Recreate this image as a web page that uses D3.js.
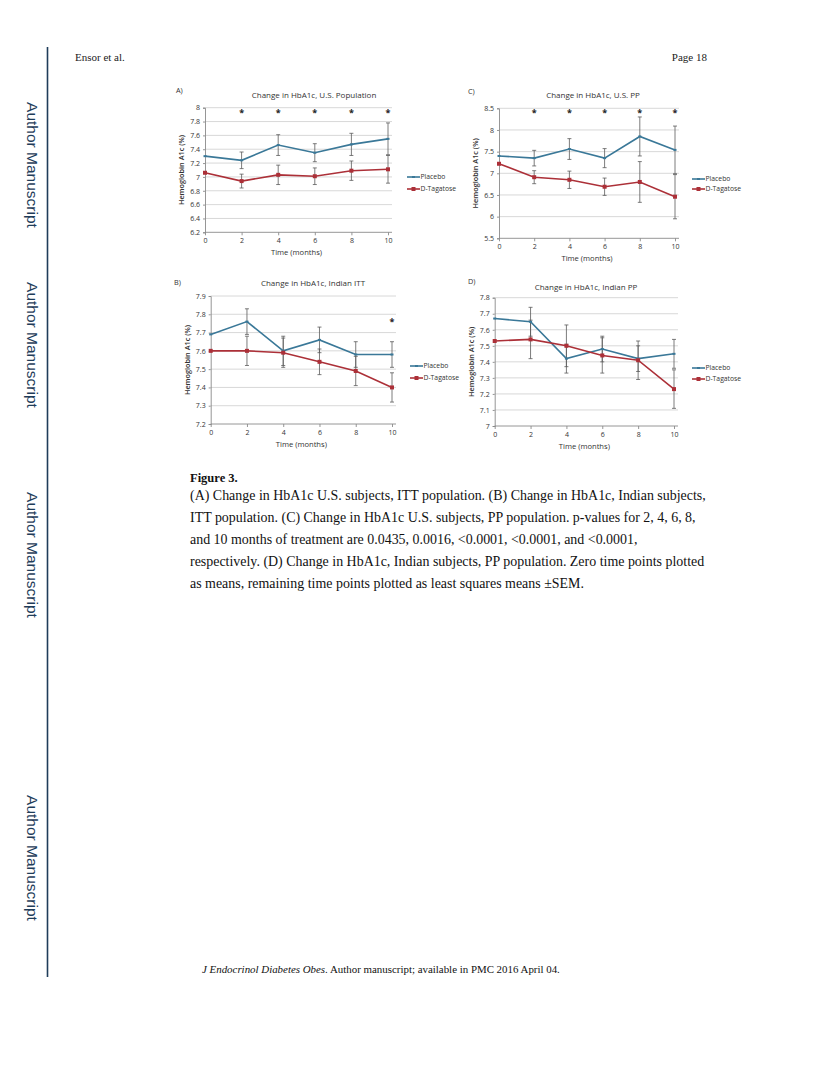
<!DOCTYPE html>
<html><head><meta charset="utf-8">
<script src="https://cdn.jsdelivr.net/npm/d3@7/dist/d3.min.js"></script>
<style>
body{margin:0;background:#fff;}
svg{display:block;}
</style></head>
<body>
<svg id="page" width="830" height="1074"></svg>
<script>
// ---------- data ----------
const months = [0, 2, 4, 6, 8, 10];
const seriesNames = ["Placebo", "D-Tagatose"];

// Panel A: Change in HbA1c, U.S. Population
const aPlacebo = [7.30, 7.24, 7.46, 7.35, 7.47, 7.55];
const aPlaceboSem = [null, 0.12, 0.15, 0.13, 0.16, 0.23];
const aTagatose = [7.06, 6.94, 7.03, 7.01, 7.09, 7.11];
const aTagatoseSem = [null, 0.10, 0.14, 0.12, 0.14, 0.20];
const aTicks = [6.2, 6.4, 6.6, 6.8, 7, 7.2, 7.4, 7.6, 7.8, 8];
const aStars = [2, 4, 6, 8, 10];

// Panel B: Change in HbA1c, Indian ITT
const bPlacebo = [7.69, 7.76, 7.60, 7.66, 7.58, 7.58];
const bPlaceboSem = [null, 0.07, 0.08, 0.07, 0.07, 0.07];
const bTagatose = [7.60, 7.60, 7.59, 7.54, 7.49, 7.40];
const bTagatoseSem = [null, 0.08, 0.08, 0.07, 0.08, 0.08];
const bTicks = [7.2, 7.3, 7.4, 7.5, 7.6, 7.7, 7.8, 7.9];
const bStars = [10];

// Panel C: Change in HbA1c, U.S. PP
const cPlacebo = [7.40, 7.35, 7.56, 7.35, 7.85, 7.54];
const cPlaceboSem = [null, 0.18, 0.24, 0.22, 0.45, 0.55];
const cTagatose = [7.22, 6.91, 6.85, 6.69, 6.80, 6.46];
const cTagatoseSem = [null, 0.15, 0.20, 0.20, 0.47, 0.51];
const cTicks = [5.5, 6, 6.5, 7, 7.5, 8, 8.5];
const cStars = [2, 4, 6, 8, 10];

// Panel D: Change in HbA1c, Indian PP
const dPlacebo = [7.67, 7.65, 7.42, 7.48, 7.42, 7.45];
const dPlaceboSem = [null, 0.09, 0.09, 0.08, 0.08, 0.09];
const dTagatose = [7.53, 7.54, 7.50, 7.44, 7.41, 7.23];
const dTagatoseSem = [null, 0.12, 0.13, 0.11, 0.12, 0.12];
const dTicks = [7, 7.1, 7.2, 7.3, 7.4, 7.5, 7.6, 7.7, 7.8];
const dStars = [];

const captionLines = [
  "(A) Change in HbA1c U.S. subjects, ITT population. (B) Change in HbA1c, Indian subjects,",
  "ITT population. (C) Change in HbA1c U.S. subjects, PP population. p-values for 2, 4, 6, 8,",
  "and 10 months of treatment are 0.0435, 0.0016, <0.0001, <0.0001, and <0.0001,",
  "respectively. (D) Change in HbA1c, Indian subjects, PP population. Zero time points plotted",
  "as means, remaining time points plotted as least squares means ±SEM."
];

// ---------- drawing ----------
const svg = d3.select("#page");
const BLUE = "#3a7898", RED = "#ac3038";
const chartFont = "'Open Sans','Liberation Sans',Arial,sans-serif";
const serif = "'Liberation Serif','Times New Roman',serif";

// sidebar
svg.append("line").attr("x1", 47.5).attr("x2", 47.5).attr("y1", 47).attr("y2", 977)
  .attr("stroke", "#1f3d5a").attr("stroke-width", 1.6);
[165, 345, 555, 858].forEach(cy => {
  svg.append("text").attr("transform", `translate(27,${cy}) rotate(90)`)
    .attr("text-anchor", "middle").attr("font-family", "'Liberation Sans',Arial,sans-serif")
    .attr("font-size", 15.5).attr("fill", "#1f3d5a").text("Author Manuscript");
});
// header
svg.append("text").attr("x", 75).attr("y", 61).attr("font-family", serif).attr("font-size", 11)
  .attr("fill", "#222").text("Ensor et al.");
svg.append("text").attr("x", 707).attr("y", 61).attr("text-anchor", "end").attr("font-family", serif)
  .attr("font-size", 11).attr("fill", "#222").text("Page 18");

function panel(cfg) {
  const g = svg.append("g");
  const x = d3.scaleLinear().domain([0, 10]).range([cfg.x0, cfg.x1]);
  const y = d3.scaleLinear().domain([cfg.ticks[0], cfg.ticks[cfg.ticks.length - 1]]).range([cfg.yb, cfg.yt]);
  // gridlines
  g.selectAll(".grid").data(cfg.ticks.slice(1)).join("line")
    .attr("x1", cfg.x0).attr("x2", cfg.x1 + 4)
    .attr("y1", d => y(d)).attr("y2", d => y(d))
    .attr("stroke", "#d4d4d4").attr("stroke-width", 0.9);
  // y axis
  const ya = d3.axisLeft(y).tickValues(cfg.ticks).tickSize(2).tickFormat(d => String(+d.toFixed(2)));
  const yg = g.append("g").attr("transform", `translate(${cfg.x0},0)`).call(ya);
  // x axis
  const xa = d3.axisBottom(x).tickValues(months).tickSize(3).tickFormat(d3.format("d"));
  const xg = g.append("g").attr("transform", `translate(0,${cfg.yb})`).call(xa);
  xg.select(".domain").attr("d", `M${cfg.x0},0H${cfg.x1 + 4}`);
  [yg, xg].forEach(a => {
    a.selectAll(".domain, .tick line").attr("stroke", "#8a8a8a").attr("stroke-width", 0.9);
    a.selectAll("text").attr("font-family", chartFont).attr("font-size", 7).attr("fill", "#333");
  });
  yg.selectAll("text").attr("x", -5);
  xg.selectAll("text").attr("y", 6);
  // titles
  g.append("text").attr("x", cfg.tx).attr("y", cfg.ty).attr("text-anchor", "middle")
    .attr("font-family", chartFont).attr("font-size", 8).attr("fill", "#333").text(cfg.title);
  g.append("text").attr("x", cfg.lx).attr("y", cfg.ly).attr("font-family", chartFont)
    .attr("font-size", 7.3).attr("fill", "#333").text(cfg.letter);
  g.append("text").attr("x", (cfg.x0 + cfg.x1) / 2).attr("y", cfg.yb + 23).attr("text-anchor", "middle")
    .attr("font-family", chartFont).attr("font-size", 7.6).attr("fill", "#333").text("Time (months)");
  g.append("text").attr("transform", `translate(${cfg.x0 - 21},${(cfg.yt + cfg.yb) / 2}) rotate(-90)`)
    .attr("text-anchor", "middle").attr("font-family", chartFont).attr("font-size", 7.3)
    .attr("font-weight", 600).attr("fill", "#333").text("Hemoglobin A1c (%)");
  // error bars
  const series = [
    {name: seriesNames[0], vals: cfg.p, sem: cfg.ps, color: BLUE, sq: false},
    {name: seriesNames[1], vals: cfg.t, sem: cfg.ts, color: RED, sq: true}
  ];
  series.forEach(s => {
    months.forEach((m, i) => {
      if (s.sem[i] == null) return;
      const lo = y(s.vals[i] - s.sem[i]), hi = y(s.vals[i] + s.sem[i]), xx = x(m);
      g.append("path").attr("d", `M${xx},${lo}V${hi}M${xx - 2},${lo}H${xx + 2}M${xx - 2},${hi}H${xx + 2}`)
        .attr("stroke", "#5a5a5a").attr("stroke-width", 0.8).attr("fill", "none");
    });
  });
  const line = d3.line().x((d, i) => x(months[i])).y(d => y(d));
  series.forEach(s => {
    g.append("path").attr("d", line(s.vals)).attr("fill", "none").attr("stroke", s.color).attr("stroke-width", 1.6);
    g.selectAll(null).data(s.vals).join("rect")
      .attr("x", (d, i) => x(months[i]) - (s.sq ? 2 : 1.5)).attr("y", d => y(d) - (s.sq ? 2 : 1))
      .attr("width", s.sq ? 4 : 3).attr("height", s.sq ? 4 : 2).attr("fill", s.color);
  });
  // stars
  g.selectAll(".star").data(cfg.stars).join("text")
    .attr("x", d => x(d)).attr("y", cfg.starY + 4).attr("text-anchor", "middle")
    .attr("font-family", chartFont).attr("font-size", 9).attr("font-weight", "bold").attr("fill", "#222").text("*");
  // legend
  series.forEach((s, i) => {
    const ly = cfg.legY + i * cfg.legGap;
    g.append("line").attr("x1", cfg.legX).attr("x2", cfg.legX + 13).attr("y1", ly).attr("y2", ly)
      .attr("stroke", s.color).attr("stroke-width", 1.6);
    g.append("rect").attr("x", cfg.legX + 6.5 - (s.sq ? 2 : 1.5)).attr("y", ly - (s.sq ? 2 : 1))
      .attr("width", s.sq ? 4 : 3).attr("height", s.sq ? 4 : 2).attr("fill", s.color);
    g.append("text").attr("x", cfg.legX + 13.5).attr("y", ly + 2.4).attr("font-family", chartFont)
      .attr("font-size", 6.8).attr("fill", "#333").text(s.name);
  });
}

panel({letter: "A)", title: "Change in HbA1c, U.S. Population", x0: 205, x1: 388, yt: 107.7, yb: 232.3,
  ticks: aTicks, p: aPlacebo, ps: aPlaceboSem, t: aTagatose, ts: aTagatoseSem, stars: aStars, starY: 112,
  tx: 314, ty: 98, lx: 176, ly: 93, legX: 407, legY: 177, legGap: 12});
panel({letter: "C)", title: "Change in HbA1c, U.S. PP", x0: 499, x1: 675, yt: 108.3, yb: 238.3,
  ticks: cTicks, p: cPlacebo, ps: cPlaceboSem, t: cTagatose, ts: cTagatoseSem, stars: cStars, starY: 112,
  tx: 593, ty: 98, lx: 468, ly: 94, legX: 692, legY: 179, legGap: 10});
panel({letter: "B)", title: "Change in HbA1c, Indian ITT", x0: 210.7, x1: 392, yt: 296, yb: 424,
  ticks: bTicks, p: bPlacebo, ps: bPlaceboSem, t: bTagatose, ts: bTagatoseSem, stars: bStars, starY: 321,
  tx: 313, ty: 286, lx: 174, ly: 285, legX: 410, legY: 366, legGap: 12});
panel({letter: "D)", title: "Change in HbA1c, Indian PP", x0: 494.7, x1: 674, yt: 297.7, yb: 426,
  ticks: dTicks, p: dPlacebo, ps: dPlaceboSem, t: dTagatose, ts: dTagatoseSem, stars: dStars, starY: 0,
  tx: 586, ty: 290, lx: 468, ly: 284, legX: 692, legY: 368, legGap: 11});

// caption
svg.append("text").attr("x", 190).attr("y", 482).attr("font-family", serif).attr("font-size", 12.5)
  .attr("font-weight", "bold").attr("fill", "#111").text("Figure 3.");
svg.selectAll(".cap").data(captionLines).join("text")
  .attr("x", 190).attr("y", (d, i) => 500 + i * 22)
  .attr("font-family", serif).attr("font-size", 13.95).attr("fill", "#111").text(d => d);

// footer
const ft = svg.append("text").attr("x", 202).attr("y", 973).attr("font-family", serif)
  .attr("font-size", 10.9).attr("fill", "#111");
ft.append("tspan").attr("font-style", "italic").text("J Endocrinol Diabetes Obes");
ft.append("tspan").text(". Author manuscript; available in PMC 2016 April 04.");
</script>
</body></html>
